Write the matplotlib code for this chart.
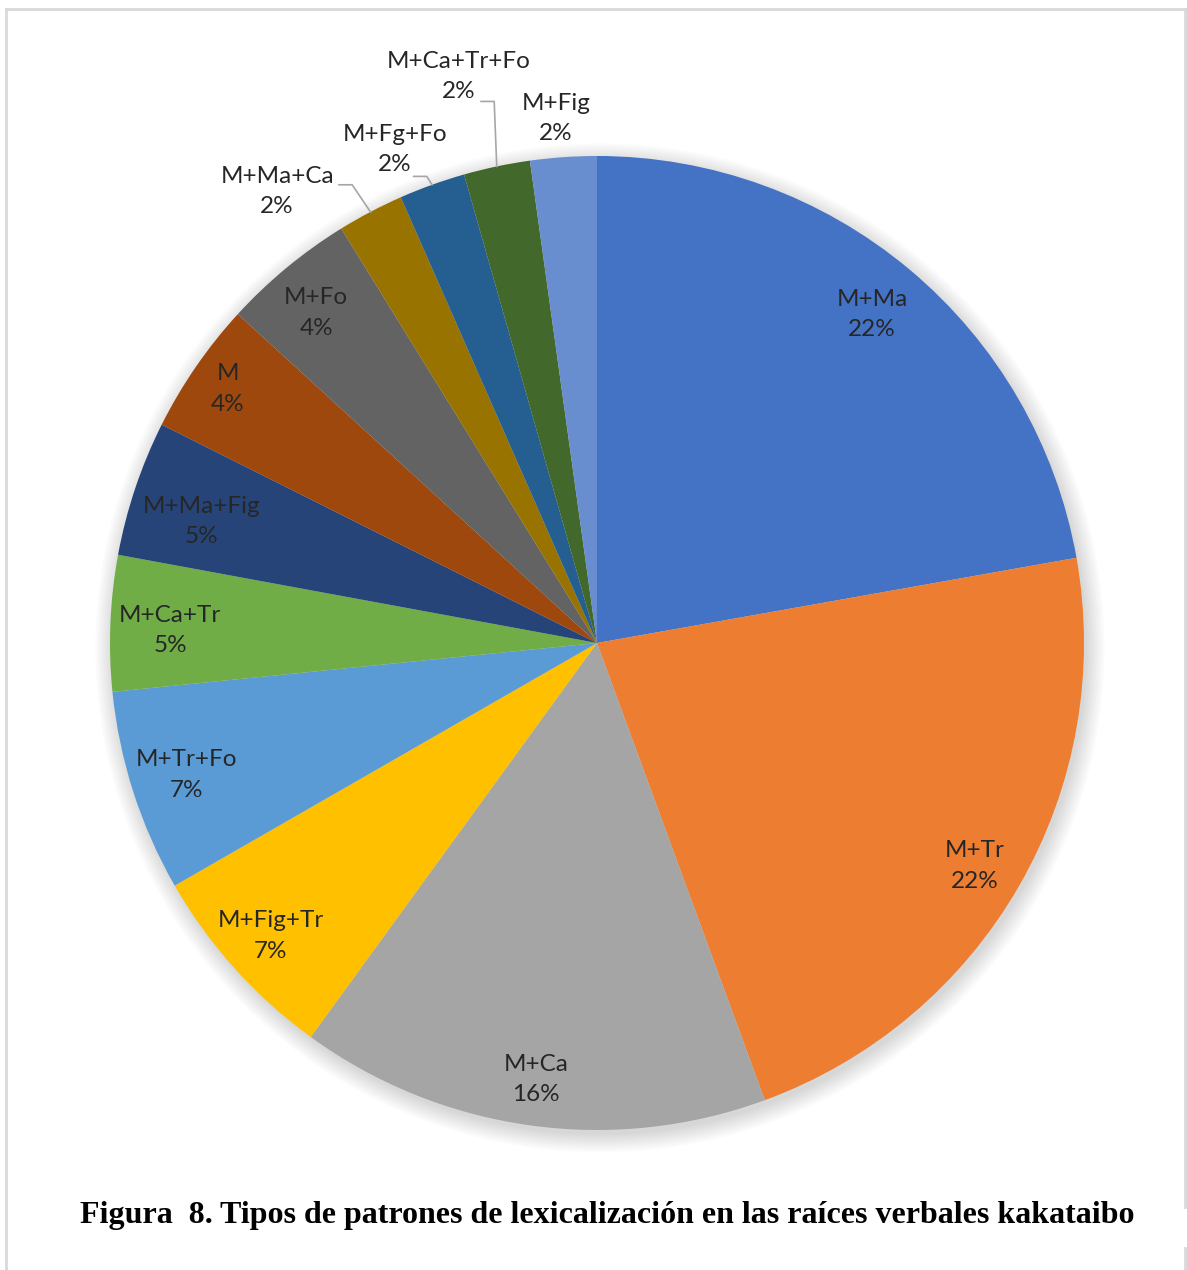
import numpy as np
import matplotlib.pyplot as plt
from matplotlib.lines import Line2D
from matplotlib.patches import Circle

# shares of each lexicalization pattern (%)
tipos = ['M+Ma', 'M+Tr', 'M+Ca', 'M+Fig+Tr', 'M+Tr+Fo', 'M+Ca+Tr', 'M+Ma+Fig',
         'M', 'M+Fo', 'M+Ma+Ca', 'M+Fg+Fo', 'M+Ca+Tr+Fo', 'M+Fig']
valores = [22.2, 22.2, 15.6, 6.7, 6.7, 4.5, 4.5, 4.4, 4.4, 2.2, 2.2, 2.2, 2.2]
colores = ['#4472C4', '#ED7D31', '#A5A5A5', '#FFC000', '#5B9BD5', '#70AD47', '#264478',
           '#9E480E', '#636363', '#997300', '#255E91', '#43682B', '#698ED0']
titulo = 'Figura  8. Tipos de patrones de lexicalización en las raíces verbales kakataibo'

# label layout: radial distance and angle shift (deg) for each slice
lab_r = [0.88, 0.90, 0.905, 0.90, 0.885, 0.877, 0.85, 0.92, 0.89, 1.136, 1.095, 1.197, 1.08]
lab_shift = [0, -0.7, 0, 0, 0, 0.7, 1.5, 0, 0.8, 7.6, 2.5, 1.8, 0.5]
# leader lines: start offset from label centre
leaders = {9: (0.127, 0.014), 10: (0.039, -0.055), 11: (0.045, -0.051)}

W, H = 1187, 1270
cx, cy, R = 597, 643, 487

fig = plt.figure(figsize=(W / 100, H / 100), dpi=100)
ax = fig.add_axes([0, 0, 1, 1])

# soft shadow behind the pie
for i in range(10):
    ax.add_patch(Circle((0.006, -0.010), 1.0 + 0.004 * i, color='black',
                        alpha=0.014, lw=0, zorder=0))

wedges, _ = ax.pie(valores, colors=colores, startangle=90, counterclock=False,
                   radius=1.0, wedgeprops=dict(linewidth=0))
for w in wedges:
    w.set_zorder(2)

total = sum(valores)
for i, w in enumerate(wedges):
    mid = (w.theta1 + w.theta2) / 2.0
    ang = np.deg2rad(mid + lab_shift[i])
    x = lab_r[i] * np.cos(ang)
    y = lab_r[i] * np.sin(ang)
    pct = int(np.floor(valores[i] / total * 100 + 0.5))
    txt = f'{tipos[i]}\n{pct}%'
    ax.text(x, y, txt, ha='center', va='center', fontsize=17.5, color='#262626',
            family='Lato', linespacing=1.55, zorder=4)
    if i in leaders:
        dx, dy = leaders[i]
        sx, sy = x + dx, y + dy
        ex = np.cos(np.deg2rad(mid))
        ey = np.sin(np.deg2rad(mid))
        ax.plot([sx, sx + 0.027, ex], [sy, sy, ey], color='#A6A6A6', lw=1.2, zorder=3)

ax.set_xlim(-cx / R, (W - cx) / R)
ax.set_ylim(-(H - cy) / R, cy / R)
ax.set_aspect('auto')
ax.axis('off')

# frame of the chart area
fc = '#D9D9D9'
fig.add_artist(Line2D([6 / W, 1185 / W], [1 - 9 / H, 1 - 9 / H], color=fc, lw=2))
fig.add_artist(Line2D([6 / W, 6 / W], [1 - 9 / H, 0], color=fc, lw=2))
fig.add_artist(Line2D([1185 / W, 1185 / W], [1 - 9 / H, 1 - 1207 / H], color=fc, lw=2))
fig.add_artist(Line2D([1185 / W, 1185 / W], [1 - 1248 / H, 0], color=fc, lw=2))

fig.text(607 / W, 1 - 1215 / H, titulo, ha='center', va='center', fontsize=23,
         fontweight='bold', family='Liberation Serif', color='black')

fig.savefig('out.png', dpi=100)
